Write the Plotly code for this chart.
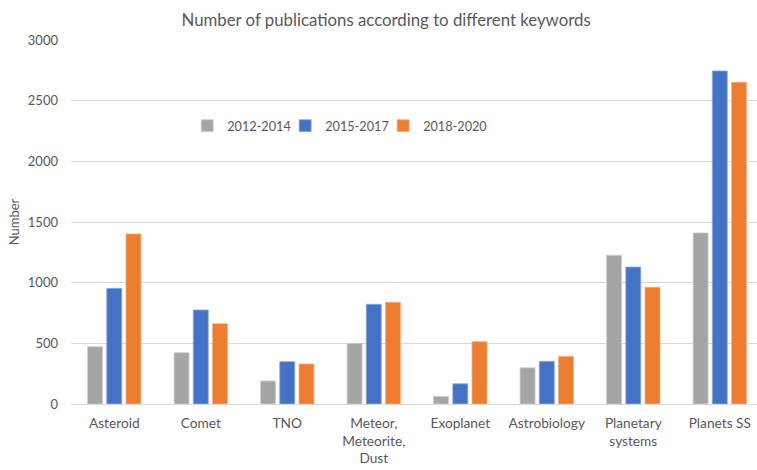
import plotly.graph_objects as go

categories = ["Asteroid", "Comet", "TNO", "Meteor,<br>Meteorite,<br>Dust", "Exoplanet",
              "Astrobiology", "Planetary<br>systems", "Planets SS"]
series_names = ["2012-2014", "2015-2017", "2018-2020"]
v_2012_2014 = [472, 423, 190, 500, 63, 299, 1226, 1410]
v_2015_2017 = [953, 775, 349, 822, 167, 352, 1129, 2745]
v_2018_2020 = [1402, 662, 330, 838, 514, 393, 962, 2652]
colors = ["#a5a5a5", "#4472c4", "#ed7d31"]
edge_colors = ["#cfcfcf", "#8faadc", "#f4b183"]
y_ticks = [0, 500, 1000, 1500, 2000, 2500, 3000]

FONT = "Lato"
TXT = "#595959"
legend_ids = ["legend", "legend2", "legend3"]
legend_x = [0.1694, 0.3122, 0.4550]

fig = go.Figure()
for name, vals, c, ec, lid in zip(series_names, [v_2012_2014, v_2015_2017, v_2018_2020],
                                  colors, edge_colors, legend_ids):
    fig.add_trace(go.Bar(x=list(range(len(categories))), y=vals, name=name, legend=lid,
                         showlegend=True,
                         marker=dict(color=c, line=dict(color=ec, width=0.8))))

leg_common = dict(orientation="h", xanchor="left", y=0.764, yanchor="middle",
                  font=dict(size=12.7, color=TXT), itemwidth=30, bgcolor="rgba(0,0,0,0)")

fig.update_layout(
    width=757, height=470,
    showlegend=True,
    margin=dict(l=70.75, r=0, t=40, b=66),
    paper_bgcolor="white", plot_bgcolor="white",
    barmode="group", bargap=0.334, bargroupgap=0.22,
    font=dict(family=FONT, color=TXT, size=13),
    title=dict(text="Number of publications according to different keywords",
               x=0.51, xanchor="center", y=0.957, yanchor="middle",
               font=dict(size=16.8, color=TXT, family=FONT)),
    legend=dict(x=legend_x[0], **leg_common),
    legend2=dict(x=legend_x[1], **leg_common),
    legend3=dict(x=legend_x[2], **leg_common),
    xaxis=dict(tickmode="array", tickvals=list(range(len(categories))), ticktext=categories,
               range=[-0.5, 7.43], showgrid=False, showline=False, zeroline=False,
               ticks="", ticklabelstandoff=9, ticklabeloverflow="allow",
               tickfont=dict(size=13.7, color=TXT)),
    yaxis=dict(range=[0, 3000], tickvals=y_ticks, showgrid=True, gridcolor="#d9d9d9",
               gridwidth=1, zeroline=True, zerolinecolor="#d9d9d9", zerolinewidth=1,
               showline=False, ticks="", ticklabelstandoff=12,
               tickfont=dict(size=13, color=TXT),
               title=dict(text="Number", standoff=5, font=dict(size=13, color=TXT))),
)

fig.write_html("out.html", config={"displayModeBar": False},
               post_script="document.body.style.margin='0';")
